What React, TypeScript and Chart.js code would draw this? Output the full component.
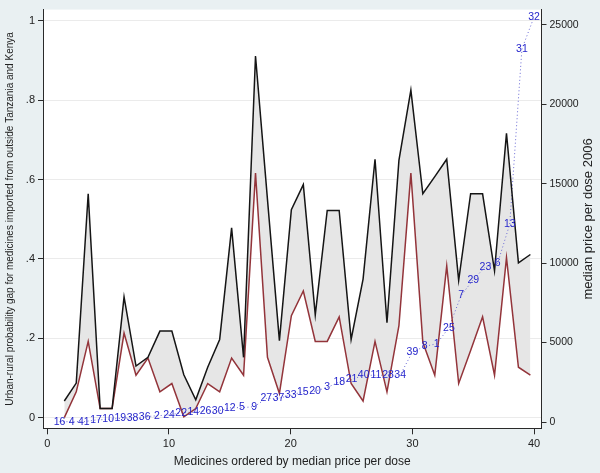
import { useEffect, useRef } from "react";
import { Chart, registerables } from "chart.js";

Chart.register(...registerables);

// Rank of each medicine (ordered by median price per dose)
const ranks = [1, 2, 3, 4, 5, 6, 7, 8, 9, 10, 11, 12, 13, 14, 15, 16, 17, 18, 19, 20, 21, 22, 23, 24, 25, 26, 27, 28, 29, 30, 31, 32, 33, 34, 35, 36, 37, 38, 39, 40];

// Medicine ID shown as marker label
const medicineIds = [16, 4, 41, 17, 10, 19, 38, 36, 2, 24, 22, 14, 26, 30, 12, 5, 9, 27, 37, 33, 15, 20, 3, 18, 21, 40, 11, 28, 34, 39, 8, 1, 25, 7, 29, 23, 6, 13, 31, 32];

// Upper bound of urban-rural probability gap (black line)
const upperGap = [0.042, 0.087, 0.564, 0.023, 0.023, 0.304, 0.13, 0.152, 0.218, 0.218, 0.108, 0.045, 0.127, 0.197, 0.478, 0.152, 0.911, 0.55, 0.194, 0.524, 0.587, 0.259, 0.522, 0.522, 0.197, 0.349, 0.651, 0.239, 0.648, 0.825, 0.564, 0.607, 0.651, 0.346, 0.564, 0.564, 0.37, 0.716, 0.39, 0.411];

// Lower bound of urban-rural probability gap (red line)
const lowerGap = [0.0, 0.065, 0.192, 0.023, 0.023, 0.213, 0.107, 0.15, 0.065, 0.086, 0.002, 0.023, 0.086, 0.065, 0.15, 0.107, 0.616, 0.152, 0.061, 0.257, 0.319, 0.192, 0.192, 0.254, 0.086, 0.042, 0.192, 0.065, 0.232, 0.616, 0.19, 0.107, 0.382, 0.086, 0.169, 0.254, 0.107, 0.403, 0.127, 0.107];

// Median price per dose 2006 (right axis)
const medianPrice = [20, 20, 20, 125, 170, 230, 270, 330, 395, 440, 580, 625, 690, 690, 895, 910, 960, 1485, 1490, 1690, 1900, 1940, 2175, 2525, 2675, 2945, 2945, 2950, 2960, 4405, 4760, 4930, 5935, 7960, 8960, 9775, 9980, 12450, 23480, 25500];

const xTicks = [0, 10, 20, 30, 40];
const leftTicks = [0, 0.2, 0.4, 0.6, 0.8, 1];
const rightTicks = [0, 5000, 10000, 15000, 20000, 25000];

const xTitle = "Medicines ordered by median price per dose";
const leftTitle = "Urban-rural probability gap for medicines imported from outside Tanzania and Kenya";
const rightTitle = "median price per dose 2006";

const FONT = "'Liberation Sans', Arial, Helvetica, sans-serif";
const AXIS = "#2a2a2a";

export default function App() {
  const ref = useRef<HTMLCanvasElement>(null);

  useEffect(() => {
    if (!ref.current) return;

    const bgPlugin = {
      id: "bgPlugin",
      beforeDraw(chart: any) {
        const { ctx, chartArea } = chart;
        ctx.save();
        ctx.fillStyle = "#e9f0f2";
        ctx.fillRect(0, 0, chart.width, chart.height);
        ctx.fillStyle = "#ffffff";
        ctx.fillRect(chartArea.left, chartArea.top, chartArea.right - chartArea.left, chartArea.bottom - chartArea.top);
        ctx.restore();
      },
    };

    const labelPlugin = {
      id: "medLabels",
      afterDatasetsDraw(chart: any) {
        const { ctx } = chart;
        const meta = chart.getDatasetMeta(2);
        ctx.save();
        ctx.fillStyle = "#2626cc";
        ctx.font = `10.5px ${FONT}`;
        ctx.textAlign = "center";
        ctx.textBaseline = "middle";
        meta.data.forEach((pt: any, i: number) => {
          ctx.fillText(String(medicineIds[i]), pt.x, pt.y);
        });
        ctx.restore();
      },
    };

    const rightTitlePlugin = {
      id: "rightTitle",
      afterDraw(chart: any) {
        const { ctx, chartArea } = chart;
        const s = chart.scales.y2;
        ctx.save();
        ctx.translate(s.right - 11.7, (chartArea.top + chartArea.bottom) / 2);
        ctx.rotate(-Math.PI / 2);
        ctx.fillStyle = "#222";
        ctx.font = `13px ${FONT}`;
        ctx.textAlign = "center";
        ctx.textBaseline = "middle";
        ctx.fillText(rightTitle, 0, 0);
        ctx.restore();
      },
    };

    const chart = new Chart(ref.current, {
      type: "line",
      data: {
        datasets: [
          {
            label: "upper",
            data: ranks.map((r, i) => ({ x: r, y: upperGap[i] })),
            xAxisID: "x2",
            yAxisID: "y",
            borderColor: "#151515",
            borderWidth: 1.5,
            backgroundColor: "#e6e6e6",
            fill: "+1",
            pointRadius: 0,
            tension: 0,
          },
          {
            label: "lower",
            data: ranks.map((r, i) => ({ x: r, y: lowerGap[i] })),
            xAxisID: "x2",
            yAxisID: "y",
            borderColor: "#93343a",
            borderWidth: 1.5,
            fill: false,
            pointRadius: 0,
            tension: 0,
          },
          {
            label: "price",
            data: ranks.map((r, i) => ({ x: r, y: medianPrice[i] })),
            xAxisID: "x",
            yAxisID: "y2",
            borderColor: "#6b6bd6",
            borderWidth: 1,
            borderDash: [1, 2.5],
            fill: false,
            pointRadius: 0,
            tension: 0,
          },
        ],
      },
      options: {
        animation: false,
        responsive: false,
        devicePixelRatio: 1,
        layout: { padding: { top: 8, left: 0, right: 0, bottom: 0 } },
        font: { family: FONT },
        plugins: {
          legend: { display: false },
          tooltip: { enabled: false },
          filler: { drawTime: "beforeDatasetsDraw" },
        } as any,
        scales: {
          x: {
            type: "linear",
            position: "bottom",
            min: -0.353,
            max: 40.61,
            afterBuildTicks: (s: any) => {
              s.ticks = xTicks.map((v) => ({ value: v }));
            },
            afterFit: (s: any) => {
              s.height = 44.7;
            },
            grid: { drawOnChartArea: false, tickLength: 6, tickColor: AXIS, lineWidth: 1 },
            border: { color: AXIS, width: 1 },
            ticks: {
              autoSkip: false,
              maxRotation: 0,
              padding: 3,
              color: "#222",
              font: { size: 11, family: FONT },
              callback: (v: any) => String(v),
            },
            title: {
              display: true,
              text: xTitle,
              color: "#222",
              font: { size: 12, family: FONT },
              padding: { top: 0, bottom: 4 },
            },
          },
          x2: {
            type: "linear",
            display: false,
            min: -0.782,
            max: 40.93,
          },
          y: {
            type: "linear",
            position: "left",
            min: -0.0268,
            max: 1.0279,
            afterBuildTicks: (s: any) => {
              s.ticks = leftTicks.map((v) => ({ value: v }));
            },
            afterFit: (s: any) => {
              s.width = 43;
            },
            grid: { color: "#ebebeb", tickColor: AXIS, tickLength: 5, lineWidth: 1 },
            border: { color: AXIS, width: 1 },
            ticks: {
              padding: 3,
              color: "#222",
              font: { size: 11, family: FONT },
              callback: (v: any) => {
                const n = Number(v);
                if (n === 0) return "0";
                if (n === 1) return "1";
                return n.toFixed(1).replace(/^0/, "");
              },
            },
            title: {
              display: true,
              text: leftTitle,
              color: "#222",
              font: { size: 10, family: FONT },
              padding: { top: 4, bottom: 0 },
            },
          },
          y2: {
            type: "linear",
            position: "right",
            min: -395,
            max: 25960,
            afterBuildTicks: (s: any) => {
              s.ticks = rightTicks.map((v) => ({ value: v }));
            },
            afterFit: (s: any) => {
              s.width = 58.5;
            },
            grid: { drawOnChartArea: false, tickColor: AXIS, tickLength: 5, lineWidth: 1 },
            border: { color: AXIS, width: 1 },
            ticks: {
              padding: 3,
              color: "#222",
              font: { size: 10.5, family: FONT },
              callback: (v: any) => String(v),
            },
          },
        } as any,
      },
      plugins: [bgPlugin, labelPlugin, rightTitlePlugin],
    });

    return () => chart.destroy();
  }, []);

  return (
    <div style={{ position: "fixed", left: 0, top: 0, width: 600, height: 473, background: "#e9f0f2" }}>
      <canvas ref={ref} width={600} height={473} style={{ display: "block", width: 600, height: 473 }} />
    </div>
  );
}
